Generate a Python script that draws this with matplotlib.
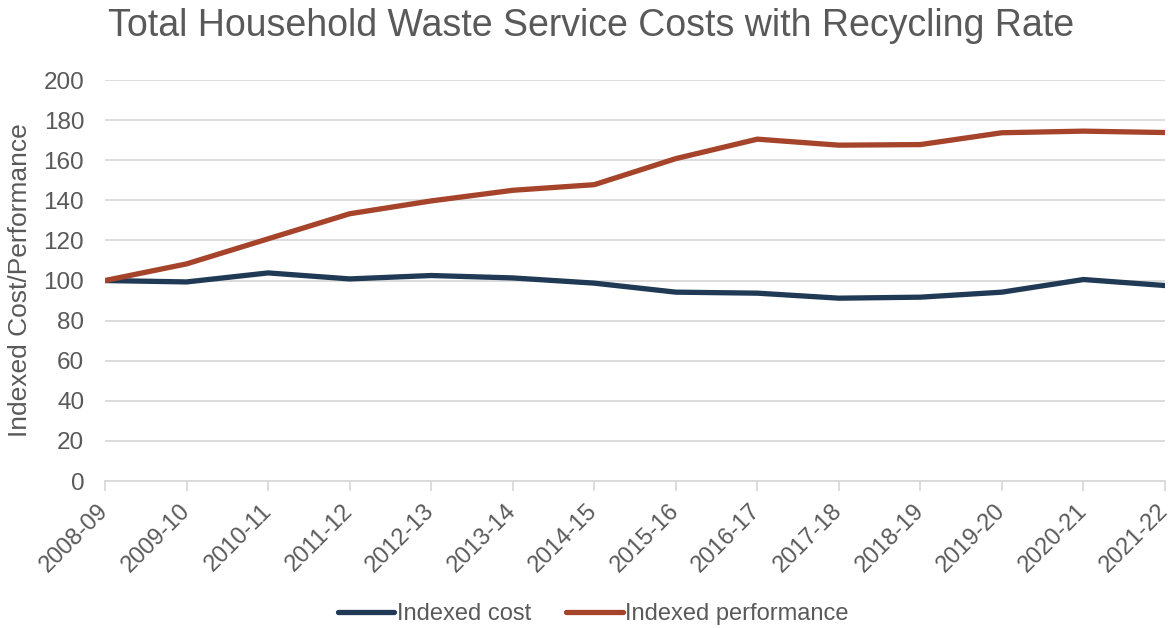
import matplotlib
matplotlib.use("Agg")
import matplotlib.pyplot as plt

years = ["2008-09", "2009-10", "2010-11", "2011-12", "2012-13", "2013-14", "2014-15",
         "2015-16", "2016-17", "2017-18", "2018-19", "2019-20", "2020-21", "2021-22"]
indexed_cost = [100.0, 99.3, 103.8, 100.8, 102.5, 101.3, 98.7,
                94.2, 93.7, 91.2, 91.7, 94.2, 100.5, 97.5]
indexed_performance = [100.0, 108.3, 120.8, 133.3, 139.7, 145.0, 147.8,
                       160.8, 170.5, 167.5, 167.8, 173.7, 174.5, 173.8]

plt.rcParams['font.family'] = ['Liberation Sans', 'DejaVu Sans']
text_color = "#595959"
grid_color = "#D9D9D9"

fig = plt.figure(figsize=(11.75, 6.28), dpi=100)
ax = fig.add_axes([0.0894, 0.234, 0.9021, 0.6386])

x = list(range(len(years)))
ax.plot(x, indexed_cost, color="#203A55", lw=3.8, label="Indexed cost", solid_capstyle="round")
ax.plot(x, indexed_performance, color="#A5442A", lw=3.8, label="Indexed performance", solid_capstyle="round")

ax.set_xlim(0, len(years) - 1)
ax.set_ylim(0, 200)
ax.set_yticks(range(0, 201, 20))
ax.set_xticks(x)
ax.set_xticklabels(years, rotation=45, ha="right", va="center", rotation_mode="anchor")

ax.grid(axis="y", color=grid_color, lw=1.3)
ax.set_axisbelow(True)
for s in ["top", "right", "left"]:
    ax.spines[s].set_visible(False)
ax.spines["bottom"].set_color(grid_color)
ax.spines["bottom"].set_linewidth(1.3)
ax.tick_params(axis="x", colors=grid_color, length=7, width=1.3, labelcolor=text_color,
               labelsize=17, pad=12)
ax.tick_params(axis="y", length=0, labelcolor=text_color, labelsize=17.5, pad=15)

ax.set_ylabel("Indexed Cost/Performance", color=text_color, fontsize=19, labelpad=8)
fig.text(0.503, 0.958, "Total Household Waste Service Costs with Recycling Rate",
         ha="center", va="center", fontsize=27, color=text_color)

leg = fig.legend(loc="center", bbox_to_anchor=(0.505, 0.022), ncol=2, frameon=False,
                 fontsize=17, handlelength=2.4, handletextpad=0.1, columnspacing=1.5,
                 labelcolor=text_color)

fig.savefig("out.png", dpi=100)
